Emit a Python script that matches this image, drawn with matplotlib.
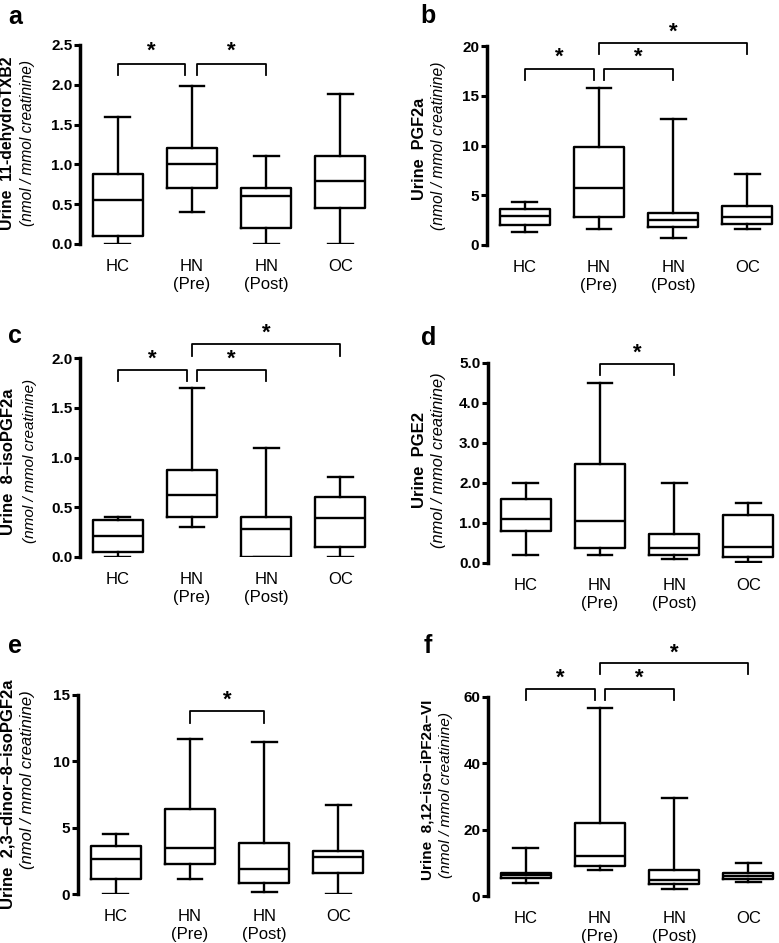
import matplotlib
matplotlib.use("Agg")
import matplotlib.pyplot as plt

plt.rcParams['font.family'] = ['Liberation Sans', 'DejaVu Sans']

groups = ["HC", "HN\n(Pre)", "HN\n(Post)", "OC"]

# (whislo, q1, median, q3, whishi) per group
txb2 = [(0.0, 0.10, 0.55, 0.88, 1.59), (0.40, 0.70, 1.00, 1.20, 1.99),
        (0.0, 0.20, 0.60, 0.70, 1.10), (0.0, 0.45, 0.79, 1.10, 1.89)]
pgf2a = [(1.27, 1.97, 2.90, 3.58, 4.35), (1.64, 2.81, 5.69, 9.87, 15.8),
         (0.74, 1.77, 2.50, 3.18, 12.64), (1.57, 2.07, 2.84, 3.95, 7.12)]
isopgf2a = [(0.0, 0.05, 0.21, 0.37, 0.40), (0.30, 0.40, 0.62, 0.87, 1.70),
            (0.0, 0.0, 0.28, 0.40, 1.10), (0.0, 0.10, 0.39, 0.60, 0.80)]
pge2 = [(0.21, 0.81, 1.10, 1.60, 2.0), (0.21, 0.38, 1.05, 2.47, 4.50),
        (0.11, 0.21, 0.37, 0.73, 2.0), (0.02, 0.16, 0.40, 1.20, 1.50)]
dinor = [(0.0, 1.16, 2.66, 3.64, 4.52), (1.16, 2.26, 3.44, 6.38, 11.68),
         (0.13, 0.80, 1.91, 3.87, 11.46), (0.0, 1.58, 2.81, 3.27, 6.71)]
ipf2a = [(4.0, 5.5, 6.3, 7.0, 14.5), (7.9, 9.0, 12.2, 21.9, 56.8),
         (2.0, 3.5, 4.8, 7.8, 29.6), (4.1, 5.2, 6.1, 6.9, 9.9)]

titles = ["Urine  11-dehydroTXB2", "Urine  PGF2a", "Urine  8\u2013isoPGF2a",
          "Urine  PGE2", "Urine  2,3\u2013dinor\u20138\u2013isoPGF2a",
          "Urine  8,12\u2013iso\u2013iPF2a\u2013VI"]
unit = "(nmol / mmol creatinine)"
letters = ["a", "b", "c", "d", "e", "f"]
ymax = [2.5, 20, 2.0, 5.0, 15, 60]
yticks = [[0, 0.5, 1.0, 1.5, 2.0, 2.5], [0, 5, 10, 15, 20],
          [0, 0.5, 1.0, 1.5, 2.0], [0, 1, 2, 3, 4, 5],
          [0, 5, 10, 15], [0, 20, 40, 60]]
yfmt = ["{:.1f}", "{:.0f}", "{:.1f}", "{:.1f}", "{:.0f}", "{:.0f}"]

# significance brackets: (x1, x2, bar y, tip y, star y)
brackets = [
    [(1, 1.9, 2.26, 2.12, 2.42), (2.07, 3, 2.26, 2.12, 2.42)],
    [(1, 1.93, 17.66, 16.56, 18.83), (2.07, 3, 17.66, 16.56, 18.83),
     (2, 4, 20.3, 19.16, 21.4)],
    [(1, 1.93, 1.876, 1.77, 1.99), (2.07, 3, 1.876, 1.77, 1.99),
     (2, 4, 2.14, 2.02, 2.25)],
    [(2, 3, 4.98, 4.70, 5.25)],
    [(2, 3, 13.79, 12.89, 14.57)],
    [(1, 1.93, 62.5, 59.0, 65.8), (2.07, 3, 62.5, 59.0, 65.8),
     (2, 4, 70.2, 66.8, 73.3)],
]
data = [txb2, pgf2a, isopgf2a, pge2, dinor, ipf2a]

W, H = 779, 943
fig = plt.figure(figsize=(W / 100, H / 100), dpi=100)
renderer = fig.canvas.get_renderer()

# axes boxes in pixels: left, axis top, axis bottom
boxes = [(80, 45, 244), (487, 46, 245), (80, 358, 557),
         (488, 363, 563), (78, 695, 894), (488, 697, 896)]
# y-label placement in pixels: (x centre, top, bottom)
bold_lab = [(8, 57, 230), (419, 98, 200), (9, 377, 547),
            (419, 410, 510), (8, 678, 910), (428, 700, 880)]
ital_lab = [(28, 60, 227), (438, 62, 230), (30, 378, 543),
            (438, 372, 548), (28, 688, 872), (446, 712, 878)]
letter_pos = [(8, 24), (420, 23), (8, 343), (421, 345), (8, 653), (424, 653)]


def side_label(pos, s, **kw):
    x, y0, y1 = pos
    t = fig.text(x / W, 1 - (y0 + y1) / 2 / H, s, rotation=90, ha="center",
                 va="center", fontsize=11, **kw)
    h = t.get_window_extent(renderer).height
    t.set_fontsize(min(12, max(10.8, 11 * (y1 - y0) / h)))


for i in range(6):
    left, top, bot = boxes[i]
    ax = fig.add_axes([left / W, 1 - bot / H, 290 / W, (bot - top) / H])
    stats = [dict(whislo=s[0], q1=s[1], med=s[2], q3=s[3], whishi=s[4], fliers=[])
             for s in data[i]]
    ax.bxp(stats, positions=[1, 2, 3, 4], widths=0.67, showfliers=False,
           boxprops=dict(linewidth=1.7, color="black"),
           whiskerprops=dict(linewidth=1.7, color="black"),
           capprops=dict(linewidth=1.7, color="black"),
           medianprops=dict(linewidth=1.7, color="black"))
    ax.set_xlim(0.49, 4.4)
    ax.set_ylim(0, ymax[i])
    for sp in ["top", "right", "bottom"]:
        ax.spines[sp].set_visible(False)
    ax.spines["left"].set_linewidth(2.5)
    ax.set_yticks(yticks[i])
    ax.set_yticklabels([yfmt[i].format(v) for v in yticks[i]],
                       fontweight="bold", fontsize=11)
    ax.tick_params(axis="y", length=4.5, width=2.2, pad=1)
    ax.set_xticks([1, 2, 3, 4])
    ax.set_xticklabels(groups, fontsize=12)
    ax.tick_params(axis="x", length=0, pad=11)

    for x1, x2, yb, yt, ys in brackets[i]:
        ax.plot([x1, x1, x2, x2], [yt, yb, yb, yt], color="black",
                linewidth=1.3, clip_on=False)
        ax.text((x1 + x2) / 2, ys, "*", ha="center", va="center",
                fontsize=16, fontweight="bold", clip_on=False)

    side_label(bold_lab[i], titles[i], fontweight="bold")
    side_label(ital_lab[i], unit, fontstyle="italic")

    lx, ly = letter_pos[i]
    fig.text(lx / W, 1 - ly / H, letters[i], fontsize=18, fontweight="bold",
             ha="left", va="baseline")

fig.savefig("out.png", dpi=100)
